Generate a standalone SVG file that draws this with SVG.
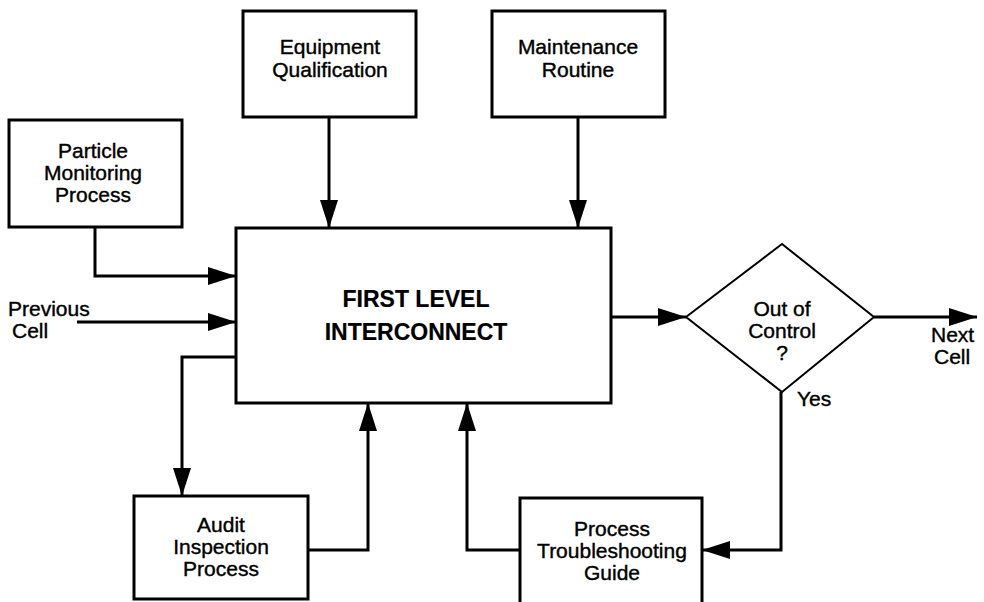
<svg xmlns="http://www.w3.org/2000/svg" width="984" height="602" viewBox="0 0 984 602">
  <style>
    .box { fill: #fff; stroke: #000; stroke-width: 3; }
    .dia { fill: #fff; stroke: #000; stroke-width: 2; }
    .wire { fill: none; stroke: #000; stroke-width: 3; marker-end: url(#arrow); }
    .plain { fill: none; stroke: #000; stroke-width: 3; }
    text { font-family: "Liberation Sans", Arial, Helvetica, sans-serif; font-size: 21px; fill: #000; stroke: #000; stroke-width: 0.4; }
    .c { text-anchor: middle; }
    .big { font-weight: bold; font-size: 23px; stroke-width: 0.2; }
  </style>
  <defs>
    <marker id="arrow" markerUnits="userSpaceOnUse" markerWidth="30" markerHeight="20" viewBox="0 0 30 18" refX="28" refY="9" orient="auto">
      <path d="M0,0 L28,9 L0,18 Z" fill="#000"/>
    </marker>
  </defs>
  <rect width="984" height="602" fill="#fff"/>

  <g id="connectors">
    <!-- Particle monitoring into main block -->
    <path class="wire" d="M95,227 V276 H236"/>
    <!-- previous cell input -->
    <path class="wire" d="M77,322 H236"/>
    <!-- equipment qualification down -->
    <path class="wire" d="M329,117 V228"/>
    <!-- maintenance routine down -->
    <path class="wire" d="M578,117 V228"/>
    <!-- main block to decision -->
    <path class="wire" d="M611,317 H686"/>
    <!-- decision to next cell -->
    <path class="wire" d="M874,317 H977"/>
    <!-- main block out to audit -->
    <path class="wire" d="M236,357 H182 V496"/>
    <!-- audit back up -->
    <path class="wire" d="M308,550 H368 V403"/>
    <!-- yes branch to troubleshooting -->
    <path class="wire" d="M781,392 V550 H702"/>
    <!-- troubleshooting back up -->
    <path class="wire" d="M520,550 H467 V403"/>
  </g>

  <g id="main">
    <rect class="box" x="236" y="228" width="375" height="175"/>
    <text class="c big" x="416" y="307">FIRST LEVEL</text>
    <text class="c big" x="416" y="340">INTERCONNECT</text>
  </g>

  <g id="particle">
    <rect class="box" x="9" y="120" width="173" height="107"/>
    <text class="c" x="93" y="158">Particle</text>
    <text class="c" x="93" y="180">Monitoring</text>
    <text class="c" x="93" y="202">Process</text>
  </g>

  <g id="equipment">
    <rect class="box" x="243" y="11" width="173" height="106"/>
    <text class="c" x="330" y="54">Equipment</text>
    <text class="c" x="330" y="77">Qualification</text>
  </g>

  <g id="maintenance">
    <rect class="box" x="492" y="11" width="173" height="106"/>
    <text class="c" x="578" y="54">Maintenance</text>
    <text class="c" x="578" y="77">Routine</text>
  </g>

  <g id="previous-cell">
    <text x="8" y="316">Previous</text>
    <text x="12" y="338">Cell</text>
  </g>

  <g id="decision">
    <polygon class="dia" points="686,317 782,244 874,317 782,392"/>
    <text class="c" x="782" y="316">Out of</text>
    <text class="c" x="782" y="338">Control</text>
    <text class="c" x="782" y="360">?</text>
    <text x="797" y="406">Yes</text>
  </g>

  <g id="next-cell">
    <text x="931" y="342">Next</text>
    <text x="934" y="364">Cell</text>
  </g>

  <g id="audit">
    <rect class="box" x="134" y="496" width="174" height="103"/>
    <text class="c" x="221" y="532">Audit</text>
    <text class="c" x="221" y="554">Inspection</text>
    <text class="c" x="221" y="576">Process</text>
  </g>

  <g id="troubleshooting">
    <path class="plain" d="M520,604 V498 H702 V604"/>
    <text class="c" x="612" y="536">Process</text>
    <text class="c" x="612" y="558">Troubleshooting</text>
    <text class="c" x="612" y="580">Guide</text>
  </g>
</svg>
